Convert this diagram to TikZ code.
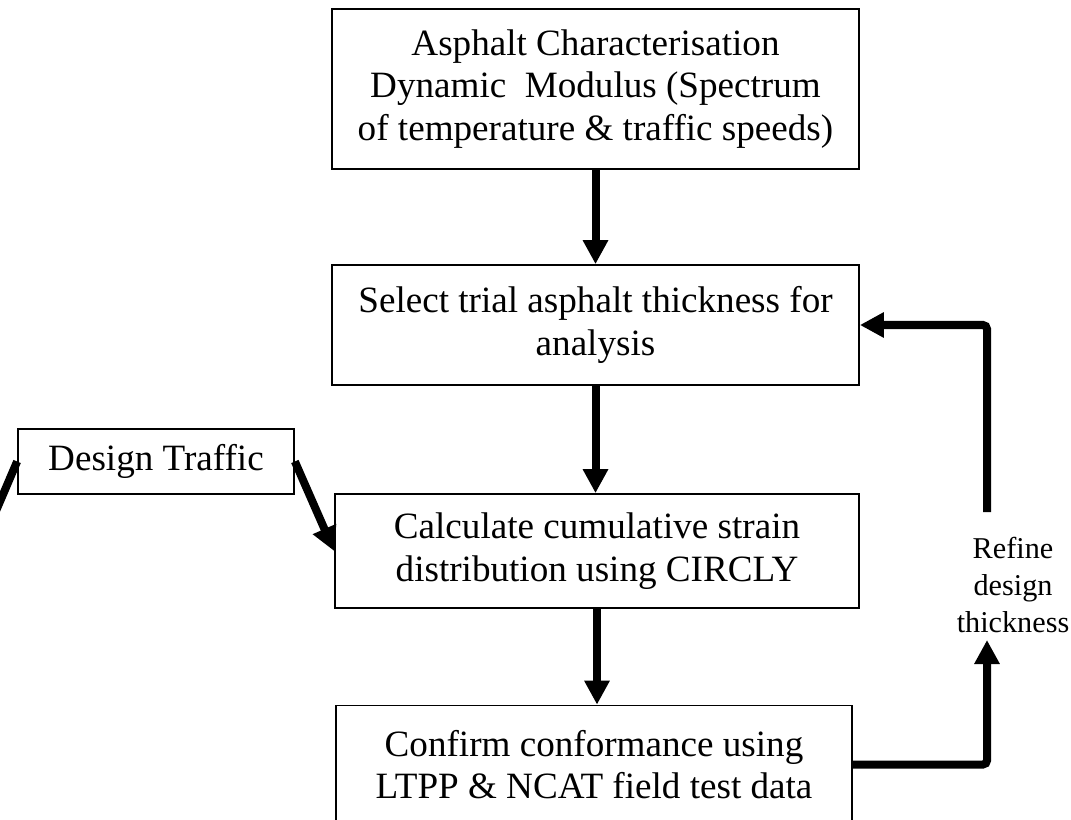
\documentclass[tikz,border=0pt]{standalone}
\usepackage{fontspec}
\setmainfont{Liberation Serif}
\usetikzlibrary{arrows.meta}

\begin{document}
\begin{tikzpicture}[x=0.025cm, y=-0.025cm,
        box/.style={draw, line width=1.2pt, align=center, inner sep=0pt,
            font=\fontsize{26.4}{30.4}\selectfont},
        flow/.style={line width=0.2cm, rounded corners=0.1cm,
            -{Triangle[length=0.6cm, width=0.6cm]}},
        feed/.style={line width=0.2cm}]
    \useasboundingbox (0,0) rectangle (1071,820);
    \clip (0,0) rectangle (1071,820);

    \node[box, minimum width=13.175cm, minimum height=4cm] (char) at (595.5,89)
        {Asphalt Characterisation\\Dynamic~ Modulus (Spectrum\\of temperature \& traffic speeds)};
    \node[box, minimum width=13.175cm, minimum height=3cm] (select) at (595.5,325)
        {Select trial asphalt thickness for\\analysis};
    \node[box, minimum width=13.1cm, minimum height=2.85cm] (calc) at (597,551)
        {Calculate cumulative strain\\distribution using CIRCLY};
    \node[box, minimum width=12.9cm, minimum height=2.95cm] (confirm) at (594,764.5)
        {Confirm conformance using\\LTPP \& NCAT field test data};
    \node[box, minimum width=6.9cm, minimum height=1.625cm] (traffic) at (156,461.5)
        {Design Traffic};
    \node[align=center, inner sep=0pt, font=\fontsize{21.5}{26.3}\selectfont] (refine) at (1013,585)
        {Refine\\design\\thickness};

    % free ends
    \coordinate (spill) at (-25,560);
    \coordinate (up) at (987,512);
    \coordinate (low) at (987,640);

    \draw[flow] (char) -- (select);
    \draw[flow] (select.south) -- (select.south |- calc.north);
    \draw[flow] (calc.south) -- (calc.south |- confirm.north);
    \draw[flow] (traffic.east) -- (calc.west);
    \draw[feed] (traffic.west) -- (spill);

    % loop back
    \draw[flow] (confirm.east) -| (low);
    \draw[flow] (up) |- (select.east);
\end{tikzpicture}
\end{document}
